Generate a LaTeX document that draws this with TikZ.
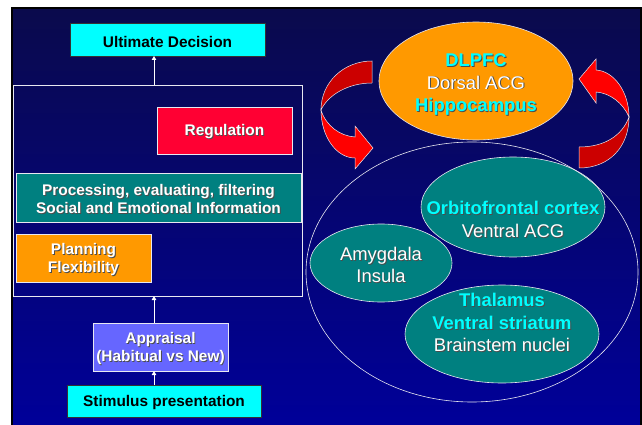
\documentclass[tikz,border=0pt]{standalone}
\usepackage{fontspec}
\setsansfont{Liberation Sans}
\usepackage{xcolor}
\definecolor{bgtop}{HTML}{0A0A4C}
\definecolor{bgbot}{HTML}{000099}
\definecolor{aqua}{HTML}{00FFFF}
\definecolor{crimson}{HTML}{FF0033}
\definecolor{tealbox}{HTML}{008080}
\definecolor{amber}{HTML}{FF9900}
\definecolor{lilac}{HTML}{6666FF}
\definecolor{ribbonlo}{HTML}{FF0000}
\definecolor{ribbonhi}{HTML}{CC0000}
\definecolor{edge}{HTML}{E8E8F0}
\usetikzlibrary{arrows.meta,shapes.geometric}
\newcommand{\drop}[1]{\raisebox{-2pt}[\height][\depth]{#1}}
\newcommand{\shd}[1]{\leavevmode\drop{\rlap{\kern0.9pt\raisebox{-0.9pt}{\color{black!70}#1}}#1}}
\newcommand{\cyantext}[1]{{\bfseries\color{aqua}\shd{#1}}}
\tikzset{
  >={Triangle[length=4pt,width=4.5pt]},
  box/.style={draw=edge,line width=0.6pt,inner sep=0pt,outer sep=0pt,align=center,text=white,
    font=\sffamily\bfseries\fontsize{15.4}{18.8}\selectfont},
  boxc/.style={box,fill=aqua,draw=black!80,text=black},
  oval/.style={ellipse,draw=edge,line width=0.6pt,inner sep=0pt,outer sep=0pt,fill=tealbox},
  ovtxt/.style={align=center,text=white,font=\sffamily\fontsize{18.4}{22.5}\selectfont},
  flow/.style={->,draw=white,line width=0.9pt},
  ribbon/.style={draw=edge,line width=0.5pt},
}
\begin{document}
\begin{tikzpicture}[x=1pt,y=-1pt]
  \useasboundingbox (0,0) rectangle (642,425);
  \fill[white] (0,0) rectangle (642,425);
  \shade[top color=bgtop,bottom color=bgbot] (12,8) rectangle (641,425);
  \draw[black,line width=2.5pt] (12,426) |- (641,8) -- (641,426);
  \node[boxc,minimum width=195pt,minimum height=33pt] (ud) at (167.5,39.5) {\drop{Ultimate Decision}};
  \node[draw=edge,line width=0.8pt,inner sep=0pt,outer sep=0pt,minimum width=289pt,minimum height=211pt] (frame) at (157.5,190.5) {};
  \node[box,fill=crimson,minimum width=135pt,minimum height=47pt] (reg) at (224.5,130.5) {\shd{Regulation}};
  \node[box,fill=tealbox,minimum width=285pt,minimum height=49pt] (proc) at (158.5,197.5) {\shd{Processing, evaluating, filtering}\\\shd{Social and Emotional Information}};
  \node[box,fill=amber,minimum width=135pt,minimum height=48pt] (plan) at (83.5,258) {\shd{Planning}\\\shd{Flexibility}};
  \node[box,fill=lilac,minimum width=135pt,minimum height=48pt] (app) at (160.5,347) {\shd{Appraisal}\\\shd{(Habitual vs New)}};
  \node[boxc,minimum width=194pt,minimum height=32pt] (stim) at (164,401) {\drop{Stimulus presentation}};
  \coordinate (spine) at (154,0);
  \draw[flow] (frame.north -| spine) -- (ud.south -| spine);
  \draw[flow] (app.north -| spine) -- (frame.south -| spine);
  \draw[flow] (stim.north -| spine) -- (app.south -| spine);
  \node[oval,fill=amber,minimum width=194pt,minimum height=118pt] (dlpfc) at (476,81) {};
  \node[ovtxt] (dlpfct) at ([yshift=-2pt]dlpfc.center) {\cyantext{DLPFC}\\\shd{Dorsal ACG}\\\cyantext{Hippocampus}};
  \node[oval,minimum width=184pt,minimum height=100pt] (ofc) at (513,207) {};
  \node[ovtxt] (ofct) at ([yshift=-11pt]ofc.center) {\cyantext{Orbitofrontal cortex}\\\shd{Ventral ACG}};
  \node[oval,minimum width=142pt,minimum height=78pt] (amy) at (381,263) {};
  \node[ovtxt] (amyt) at ([yshift=-0.5pt]amy.center) {\shd{Amygdala}\\\shd{Insula}};
  \node[oval,minimum width=194pt,minimum height=98pt] (thal) at (502,334) {};
  \node[ovtxt] (thalt) at ([yshift=13pt]thal.center) {\cyantext{Thalamus}\\\cyantext{Ventral striatum}\\\shd{Brainstem nuclei}};
  \node[ellipse,draw=edge,line width=0.6pt,inner sep=0pt,minimum width=332pt,minimum height=260pt] (limbic) at (472,272) {};
  \filldraw[ribbon,fill=ribbonhi] (372,61) .. controls (344,61) and (321,82) .. (321,110) .. controls (328,95) and (348,83) .. (372,83) -- cycle;
  \filldraw[ribbon,fill=ribbonlo] (321,110) .. controls (321,136) and (336,158) .. (355,158) -- (355,169) -- (373,148) -- (355,126) -- (355,137) .. controls (340,136) and (326,126) .. (321,110) -- cycle;
  \filldraw[ribbon,fill=ribbonhi] (579,168) .. controls (610,168) and (629,146) .. (629,117) .. controls (622,136) and (604,147) .. (579,147) -- cycle;
  \filldraw[ribbon,fill=ribbonlo] (629,117) .. controls (629,92) and (614,71) .. (596,70) -- (596,59) -- (579,79) -- (596,103) -- (596,92) .. controls (610,93) and (623,103) .. (629,117) -- cycle;
\end{tikzpicture}
\end{document}
